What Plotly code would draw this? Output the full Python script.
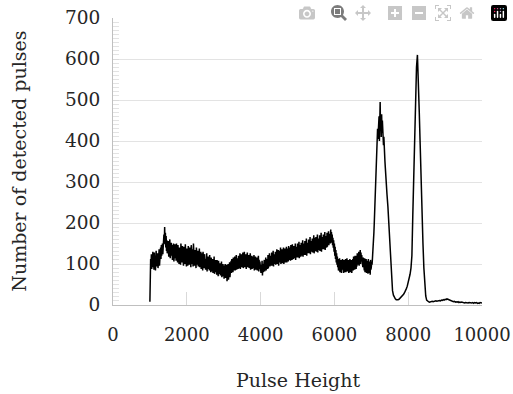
import plotly.graph_objects as go

# Pulse height channels: step 10 up to 7390, step 25 afterwards
pulse_height = list(range(1000, 7400, 10)) + list(range(7400, 10001, 25))

# Detected-pulse counts
counts_fine = [
    # 1000
    8, 72, 112, 96, 124, 88, 118, 102, 130, 92,
    115, 86, 128, 98, 120, 84, 110, 132, 94, 118,
    100, 126, 90, 122, 108, 136, 96, 128, 104, 140,
    112, 146, 120, 138, 150, 124, 160, 132, 172, 150,
    190, 148, 176, 140, 168, 132, 158, 126, 150, 138,
    156, 118, 148, 126, 160, 114, 142, 130, 152, 120,
    146, 110, 138, 124, 150, 106, 140, 118, 148, 114,
    142, 108, 150, 116, 136, 104, 146, 120, 132, 100,
    140, 112, 128, 98, 150, 110, 136, 104, 144, 116,
    134, 96, 142, 114, 130, 100, 148, 108, 126, 94,
    # 2000
    138, 104, 132, 96, 144, 110, 124, 98, 140, 106,
    130, 92, 146, 108, 126, 100, 136, 94, 150, 112,
    128, 96, 134, 104, 122, 90, 140, 102, 126, 98,
    132, 94, 124, 100, 138, 92, 120, 104, 130, 88,
    126, 96, 118, 84, 130, 100, 116, 90, 124, 94,
    120, 86, 112, 96, 126, 82, 114, 92, 118, 88,
    114, 84, 122, 90, 108, 80, 116, 94, 110, 82,
    112, 78, 106, 88, 118, 76, 104, 84, 110, 80,
    104, 74, 110, 82, 100, 70, 108, 86, 98, 76,
    102, 72, 96, 80, 106, 68, 94, 78, 100, 70,
    # 3000
    96, 64, 90, 74, 100, 66, 92, 72, 98, 58,
    94, 70, 100, 62, 88, 76, 104, 68, 96, 80,
    108, 78, 112, 86, 104, 80, 116, 90, 106, 84,
    118, 84, 110, 92, 122, 86, 114, 96, 108, 88,
    120, 90, 116, 96, 126, 88, 112, 100, 124, 92,
    118, 94, 128, 90, 114, 98, 130, 92, 116, 96,
    124, 88, 118, 100, 128, 92, 112, 98, 122, 90,
    116, 94, 126, 86, 112, 96, 120, 88, 118, 92,
    114, 90, 122, 84, 110, 94, 118, 86, 112, 92,
    116, 84, 108, 92, 120, 82, 110, 88, 106, 80,
    # 4000
    104, 78, 98, 84, 108, 72, 100, 80, 106, 86,
    110, 82, 104, 90, 116, 84, 112, 94, 108, 88,
    122, 90, 116, 98, 126, 94, 120, 100, 114, 96,
    128, 96, 120, 102, 132, 94, 124, 106, 118, 100,
    130, 98, 126, 104, 136, 100, 122, 108, 134, 96,
    132, 104, 124, 108, 140, 100, 128, 112, 136, 102,
    134, 106, 140, 100, 128, 110, 138, 104, 130, 112,
    142, 104, 132, 112, 138, 106, 144, 110, 128, 114,
    140, 108, 146, 114, 134, 110, 148, 116, 136, 112,
    144, 114, 138, 118, 150, 110, 142, 120, 136, 116,
    # 5000
    150, 116, 142, 122, 154, 114, 146, 124, 140, 118,
    152, 120, 146, 126, 158, 118, 150, 128, 144, 122,
    156, 122, 150, 130, 162, 120, 152, 132, 148, 126,
    160, 126, 154, 134, 166, 124, 156, 136, 150, 130,
    162, 128, 158, 136, 170, 126, 156, 138, 164, 132,
    166, 130, 160, 140, 172, 128, 162, 142, 158, 134,
    170, 132, 164, 144, 176, 130, 166, 146, 160, 136,
    172, 136, 166, 146, 178, 134, 168, 150, 162, 140,
    176, 142, 170, 152, 180, 146, 174, 156, 168, 150,
    184, 152, 178, 160, 172, 146, 164, 140, 158, 130,
    # 6000
    150, 120, 142, 112, 134, 104, 126, 98, 118, 92,
    112, 84, 106, 90, 114, 80, 102, 88, 110, 78,
    108, 82, 112, 86, 104, 78, 110, 84, 100, 80,
    112, 80, 106, 88, 114, 82, 104, 86, 110, 78,
    108, 84, 112, 80, 106, 86, 110, 78, 104, 88,
    112, 84, 118, 90, 110, 86, 120, 92, 114, 88,
    120, 94, 126, 98, 118, 102, 130, 96, 124, 100,
    134, 100, 128, 106, 122, 96, 118, 92, 116, 88,
    110, 84, 114, 80, 106, 86, 112, 78, 104, 82,
    108, 76, 112, 84, 100, 78, 106, 74, 110, 86,
    # 7000
    92, 104, 98, 112, 124, 140, 158, 176, 198, 222,
    250, 280, 315, 350, 380, 410, 395, 430, 405, 445,
    420, 460, 400, 470, 495, 430, 455, 410, 465, 420,
    450, 400, 430, 390, 410, 370, 380, 350, 335, 315,
]

counts_coarse = [
    # 7400-7975
    300, 270, 240, 200, 150, 105, 60, 35, 24, 18, 15, 13,
    12, 13, 14, 16, 18, 20, 23, 26, 30, 34, 40, 46,
    # 8000-8975
    54, 62, 75, 90, 120, 220, 330, 430, 520, 580, 610, 560, 470, 390, 290, 220,
    150, 90, 45, 22, 12, 9, 8, 7, 8, 7, 9, 8, 9, 8, 10, 9,
    10, 9, 11, 10, 12, 11, 13, 12,
    # 9000-9975
    14, 13, 15, 14, 13, 12, 11, 10, 9, 8, 9, 7, 8, 7, 8, 6,
    7, 6, 7, 6, 7, 5, 6, 5, 6, 5, 6, 5, 6, 5, 6, 4,
    6, 5, 6, 4, 5, 4, 6, 5,
    # 10000
    5,
]

counts = counts_fine + counts_coarse

x_ticks = [0, 2000, 4000, 6000, 8000, 10000]
y_ticks = [0, 100, 200, 300, 400, 500, 600, 700]

font_family = "DejaVu Serif"
text_color = "#262626"

fig = go.Figure(
    go.Scatter(
        x=pulse_height,
        y=counts,
        mode="lines",
        line=dict(color="#000000", width=1.5),
        showlegend=False,
        hoverinfo="skip",
    )
)

fig.update_layout(
    width=513,
    height=394,
    margin=dict(l=113, r=31, t=18, b=89),
    paper_bgcolor="white",
    plot_bgcolor="white",
    font=dict(family=font_family, size=19, color=text_color),
    annotations=[
        dict(
            text="Pulse Height",
            xref="paper", yref="paper",
            x=0.5, y=-0.261,
            xanchor="center", yanchor="middle",
            showarrow=False,
            font=dict(size=19, color=text_color),
        ),
        dict(
            text="Number of detected pulses",
            xref="paper", yref="paper",
            x=-0.257, y=0.5,
            xanchor="center", yanchor="middle",
            textangle=-90,
            showarrow=False,
            font=dict(size=19, color=text_color),
        ),
    ],
)

fig.update_xaxes(
    range=[0, 10000],
    tickvals=x_ticks,
    ticktext=[str(v) for v in x_ticks],
    showgrid=False,
    zeroline=False,
    showline=True,
    linecolor="#bfbfbf",
    linewidth=1,
    ticks="inside",
    ticklen=13,
    tickcolor="#d9d9d9",
    tickwidth=1,
    ticklabelstandoff=13,
    ticklabeloverflow="allow",
    tickfont=dict(size=18),
    automargin=False,
)

fig.update_yaxes(
    range=[0, 700],
    tickvals=y_ticks,
    ticktext=[str(v) for v in y_ticks],
    showgrid=True,
    gridcolor="#e3e3e3",
    gridwidth=1,
    zeroline=False,
    showline=True,
    linecolor="#bfbfbf",
    linewidth=1,
    ticks="inside",
    ticklen=6,
    tickcolor="#d9d9d9",
    ticklabelstandoff=8,
    ticklabeloverflow="allow",
    tickfont=dict(size=18.5),
    minor=dict(dtick=10, ticks="inside", ticklen=6, tickcolor="#e3e3e3", showgrid=False),
    automargin=False,
)

# Remove the page's default body margin so the 513x394 figure fills the window exactly
fig.write_html(
    "out.html",
    post_script="document.body.style.margin='0';document.body.style.overflow='hidden';",
)
